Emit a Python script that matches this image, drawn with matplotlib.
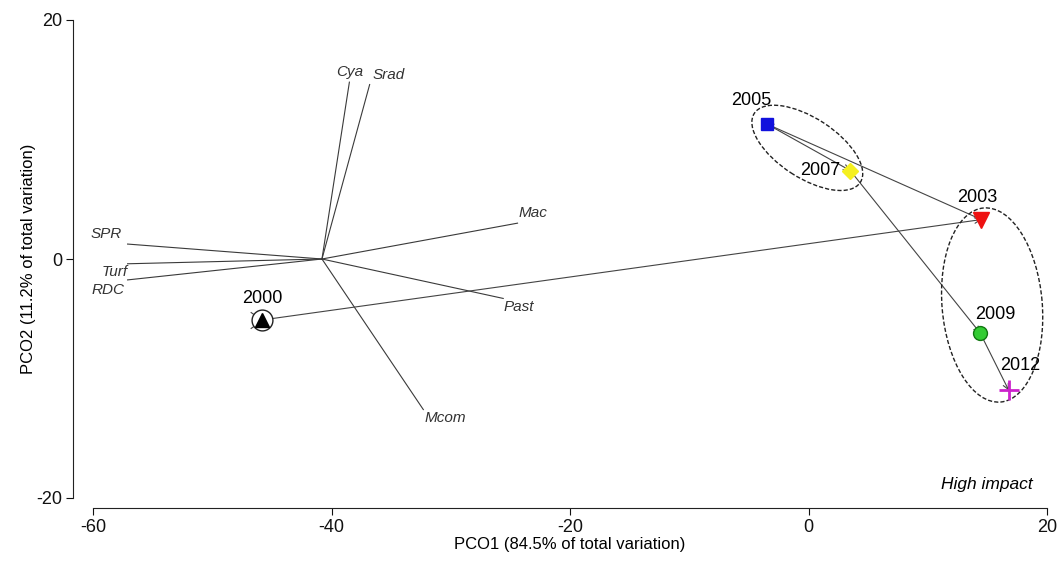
import matplotlib
matplotlib.use("Agg")
import matplotlib.pyplot as plt
from matplotlib.patches import Ellipse

plt.rcParams['font.family'] = ['Liberation Sans', 'DejaVu Sans']
plt.rcParams['axes.unicode_minus'] = False

# sampling years (PCO scores)
years = ['2000', '2003', '2005', '2007', '2009', '2012']
pco1 = [-45.8, 14.5, -3.5, 3.5, 14.4, 16.8]
pco2 = [-5.1, 3.3, 11.3, 7.4, -6.2, -11.0]

# vector overlay (variables)
vec_names = ['Cya', 'Srad', 'Mac', 'Past', 'Mcom', 'SPR', 'Turf', 'RDC']
vec_x = [-38.5, -36.8, -24.4, -25.6, -32.3, -57.1, -57.1, -57.1]
vec_y = [14.8, 14.6, 3.0, -3.3, -12.6, 1.25, -0.4, -1.75]
vec_origin = (-40.8, 0.0)

# cluster ellipses: center x, center y, width, height, angle
ell_cx = [-0.1, 15.4]
ell_cy = [9.3, -3.85]
ell_w = [10.6, 16.3]
ell_h = [5.0, 8.4]
ell_ang = [-33, 95]

fig = plt.figure(figsize=(10.62, 5.62), dpi=100)
ax = fig.add_axes([93/1062, 1-498/562, 954/1062, 478/562])

# vectors
for name, vx, vy in zip(vec_names, vec_x, vec_y):
    ax.plot([vec_origin[0], vx], [vec_origin[1], vy], color='#3a3a3a', lw=0.8, zorder=1)

vec_lab = {
    'Cya': ((0, 2), 'center', 'bottom'),
    'Srad': ((2, 2), 'left', 'bottom'),
    'Mac': ((1, 2), 'left', 'bottom'),
    'Past': ((0, -1), 'left', 'top'),
    'Mcom': ((1, -1), 'left', 'top'),
    'SPR': ((-4, 2), 'right', 'bottom'),
    'Turf': ((0, -1), 'right', 'top'),
    'RDC': ((-2, -2), 'right', 'top'),
}
for name, vx, vy in zip(vec_names, vec_x, vec_y):
    off, ha, va = vec_lab[name]
    ax.annotate(name, (vx, vy), xytext=off, textcoords='offset points',
                ha=ha, va=va, fontsize=11, style='italic', color='#333333')

# trajectory
for i in range(len(years) - 1):
    ax.annotate('', xy=(pco1[i+1], pco2[i+1]), xytext=(pco1[i], pco2[i]),
                arrowprops=dict(arrowstyle='->', color='#444444', lw=0.8,
                                shrinkA=0, shrinkB=0, mutation_scale=10),
                zorder=2)

# ellipses
for cx, cy, w, h, a in zip(ell_cx, ell_cy, ell_w, ell_h, ell_ang):
    ax.add_patch(Ellipse((cx, cy), w, h, angle=a, fill=False, ls=(0, (3, 1.5)),
                         lw=1.0, ec='#222222', zorder=3))

# start marker at 2000
ax.plot(pco1[0], pco2[0], marker=[(-1, 0.7), (0, 0), (-1, -0.7)], ms=17, mfc='none',
        mec='#444444', mew=0.8, ls='none', zorder=3)
ax.plot(pco1[0], pco2[0], 'o', ms=15, mfc='white', mec='#222222', mew=1.0, zorder=4)

styles = [
    dict(marker='^', ms=10, color='black'),
    dict(marker='v', ms=11, color='#ee1111'),
    dict(marker='s', ms=9, color='#1111dd'),
    dict(marker='D', ms=8, color='#f5f020'),
    dict(marker='o', ms=10, color='#33cc33', mec='#117711'),
    dict(marker='+', ms=14, color='#cc22cc', mew=2),
]
for x, y, st in zip(pco1, pco2, styles):
    st = dict(st)
    c = st.pop('color')
    mec = st.pop('mec', c)
    ax.plot(x, y, ls='none', mfc=c, mec=mec, zorder=5, **st)

year_lab = {
    '2000': ((0, 9), 'center', 'bottom'),
    '2003': ((-3, 10), 'center', 'bottom'),
    '2005': ((-11, 11), 'center', 'bottom'),
    '2007': ((-7, 0), 'right', 'center'),
    '2009': ((11, 7), 'center', 'bottom'),
    '2012': ((8, 12), 'center', 'bottom'),
}
for yr, x, y in zip(years, pco1, pco2):
    off, ha, va = year_lab[yr]
    ax.annotate(yr, (x, y), xytext=off, textcoords='offset points',
                ha=ha, va=va, fontsize=13, color='black', zorder=6)

ax.text(0.985, 0.012, 'High impact', transform=ax.transAxes, ha='right',
        va='bottom', fontsize=12.5, style='italic')

ax.set_xlim(-60, 20)
ax.set_ylim(-20, 20)
ax.set_xticks([-60, -40, -20, 0, 20])
ax.set_yticks([-20, 0, 20])
for s in ['top', 'right']:
    ax.spines[s].set_visible(False)
ax.spines['left'].set_position(('outward', 14.4))
ax.spines['bottom'].set_position(('outward', 7.2))
ax.spines['left'].set_color('#222222')
ax.spines['bottom'].set_color('#222222')
ax.tick_params(length=5, width=0.8, labelsize=13, pad=3, colors='#111111')
ax.set_xlabel('PCO1 (84.5% of total variation)', fontsize=12, labelpad=1)
ax.set_ylabel('PCO2 (11.2% of total variation)', fontsize=12, labelpad=0)

fig.savefig('out.png', dpi=100)
